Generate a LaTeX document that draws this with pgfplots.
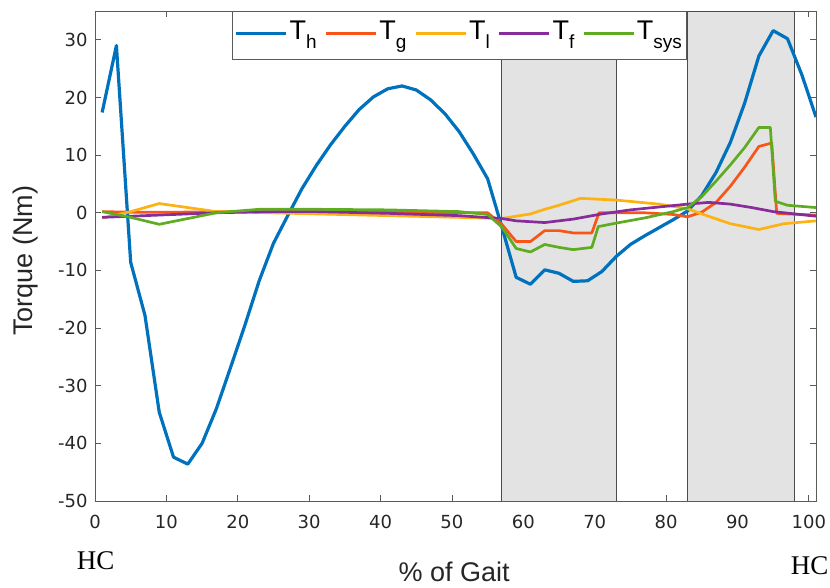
\documentclass[border=0pt]{standalone}
\usepackage{pgfplots}
\pgfplotsset{compat=1.18}
\usepackage{fontspec}
\setmainfont{Liberation Sans}
\newfontfamily\tickfont{DejaVu Sans}
\newfontfamily\timesfont{Liberation Serif}
\definecolor{cTh}{RGB}{0,114,189}
\definecolor{cTg}{RGB}{250,85,25}
\definecolor{cTl}{RGB}{252,178,18}
\definecolor{cTf}{RGB}{135,45,155}
\definecolor{cTs}{RGB}{95,172,35}
\definecolor{axgray}{RGB}{90,90,90}
\newcommand{\sub}[1]{\raisebox{-9pt}{\fontsize{19}{19}\selectfont #1}}
\begin{document}
\begin{tikzpicture}
\useasboundingbox (-95pt,-87pt) rectangle (735pt,501pt);
\begin{axis}[
  scale only axis, width=721pt, height=490pt,
  xmin=0, xmax=101, ymin=-50, ymax=35,
  xtick={0,10,...,100}, ytick={-50,-40,...,30},
  tick align=inside, major tick length=6pt,
  axis line style={axgray, line width=0.8pt},
  every tick/.style={axgray, line width=0.8pt},
  /pgf/number format/assume math mode=true,
  tick label style={font=\fontsize{18}{18}\selectfont\tickfont, text=black!85},
  xticklabel style={yshift=-11pt},
  yticklabel style={xshift=-4pt},
  ylabel={Torque (Nm)},
  ylabel style={font=\fontsize{27}{27}\selectfont, at={(axis description cs:-0.097,0.49)}, anchor=center, text=black!85},
  xlabel={\% of Gait},
  xlabel style={font=\fontsize{27}{27}\selectfont, at={(axis description cs:0.498,-0.145)}, anchor=center, text=black!85},
  legend columns=5,
  legend style={at={(axis description cs:0.19,1)}, anchor=north west,
    draw=axgray, line width=0.8pt, fill=white, inner xsep=2pt, inner ysep=6pt,
    font=\fontsize{27}{27}\selectfont,
    nodes={inner xsep=2pt, inner ysep=4pt, text depth=9pt},
    /tikz/every even column/.append style={column sep=6pt}},
  legend image code/.code={\draw[#1] (0pt,2pt) -- (50pt,2pt);},
  clip mode=individual,
]
% shaded phases
\addplot[fill=black!11, draw=black!70, line width=0.9pt, forget plot] coordinates {(57,-50) (57,35) (73,35) (73,-50)} -- cycle;
\addplot[fill=black!11, draw=black!70, line width=0.9pt, forget plot] coordinates {(83,-50) (83,35) (98,35) (98,-50)} -- cycle;

% T_h
\addplot[cTh, line width=3.2pt, line join=round] coordinates {
(1,17.4) (3,29.0) (5,-8.6) (7,-17.8) (9,-34.6) (11,-42.4) (13,-43.6) (15,-40.0)
(17,-34.0) (19,-26.8) (21,-19.5) (23,-11.8) (25,-5.3) (27,-0.5) (29,4.2) (31,8.2)
(33,11.8) (35,15.0) (37,17.9) (39,20.1) (41,21.5) (43,22.0) (45,21.3) (47,19.6)
(49,17.2) (51,14.1) (53,10.2) (55,5.9) (57,-2.5) (59,-11.2) (61,-12.4) (63,-9.9)
(65,-10.5) (67,-11.9) (69,-11.8) (71,-10.2) (73,-7.6) (75,-5.5) (77,-4.0) (79,-2.6)
(81,-1.2) (83,0.3) (85,3.0) (87,7.0) (89,12.2) (91,19.0) (93,27.2) (95,31.6)
(97,30.2) (99,24.0) (101,16.6)};
\addlegendentry{T\sub{h}}

% T_g
\addplot[cTg, line width=2.7pt, line join=round] coordinates {
(1,0.2) (5,0.1) (11,0.1) (21,0.2) (31,0.2) (41,0.1) (51,0.0) (55,0.0)
(57,-2.0) (59,-5.0) (61,-5.0) (63,-3.1) (65,-3.1) (67,-3.5) (69.6,-3.5) (70.6,0.0)
(73,0.0) (77,0.0) (81,-0.3) (83,-0.7) (85,0.1) (87,1.8) (89,4.6) (91,7.9)
(93,11.5) (94.8,12.1) (95.5,-0.1) (97,-0.2) (99,-0.3) (101,-0.4)};
\addlegendentry{T\sub{g}}

% T_l
\addplot[cTl, line width=2.7pt, line join=round] coordinates {
(1,-0.9) (5,0.2) (9,1.6) (13,0.9) (17,0.2) (21,0.1) (31,-0.2) (41,-0.5)
(51,-0.8) (57,-1.0) (59,-0.6) (61,-0.2) (63,0.6) (65,1.3) (67,2.1) (68,2.5)
(73,2.2) (79,1.5) (83,0.7) (85,-0.2) (89,-1.9) (93,-2.9) (96.5,-1.9) (101,-1.4)};
\addlegendentry{T\sub{l}}

% T_f
\addplot[cTf, line width=2.7pt, line join=round] coordinates {
(1,-0.8) (5,-0.6) (11,-0.3) (17,0.0) (25,0.2) (31,0.2) (41,-0.1) (51,-0.5)
(57,-1.0) (59,-1.4) (63,-1.7) (67,-1.1) (71,-0.2) (75,0.5) (79,1.0) (83,1.5)
(86,1.8) (89,1.5) (92,0.9) (95,0.2) (101,-0.6)};
\addlegendentry{T\sub{f}}

% T_sys
\addplot[cTs, line width=2.7pt, line join=round] coordinates {
(1,0.2) (5,-0.8) (9,-2.0) (13,-1.0) (17,0.0) (23,0.6) (31,0.6) (41,0.5)
(51,0.2) (55,-0.3) (57,-2.5) (59,-6.2) (61,-6.8) (63,-5.5) (65,-6.0) (67,-6.4)
(69.6,-6.0) (70.5,-2.4) (73,-1.8) (77,-0.9) (81,0.2) (83,0.9) (85,2.8) (87,5.5)
(89,8.3) (91,11.3) (93,14.8) (94.6,14.8) (95.3,2.0) (97,1.3) (99,1.1) (101,0.9)};
\addlegendentry{T\sub{sys}}

\node[font=\fontsize{27}{27}\selectfont\timesfont, anchor=center] at (axis description cs:0.001,-0.122) {HC};
\node[font=\fontsize{27}{27}\selectfont\timesfont, anchor=center] at (axis description cs:0.991,-0.133) {HC};
\end{axis}
\end{tikzpicture}
\end{document}
